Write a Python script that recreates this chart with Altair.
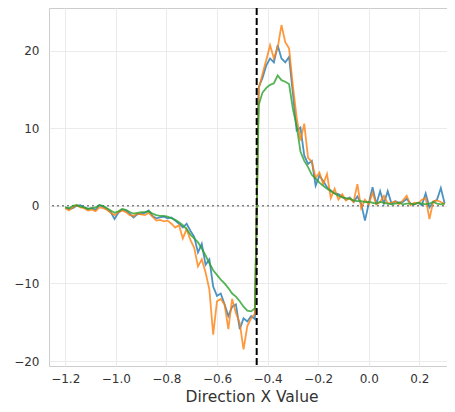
import altair as alt
import pandas as pd

# sample positions along the x direction
x_values = [round(-1.2 + 0.015 * i, 3) for i in range(101)]

blue_vals = [
    -0.2, -0.4, -0.3, 0.0, 0.1, -0.2, -0.4, -0.3, -0.5, 0.1,
    -0.1, -0.4, -0.8, -1.7, -0.9, -0.5, -0.6, -1.0, -1.5, -1.1,
    -1.0, -0.9, -0.6, -1.3, -1.6, -1.5, -1.4, -1.6, -1.5, -1.9,
    -2.3, -2.8, -2.3, -3.2, -4.0, -6.0, -4.9, -7.6, -6.9, -10.4,
    -11.6, -11.3, -12.7, -14.2, -13.0, -12.7, -15.9, -14.5, -14.9, -14.2,
    -14.6, 15.3, 16.5, 18.1, 19.0, 18.5, 20.7, 19.0, 18.5, 19.2,
    14.5, 9.7, 10.1, 6.5, 5.4, 5.8, 2.6, 3.9, 3.2, 2.4,
    2.0, 1.6, 1.5, 1.2, 0.8, 1.1, 0.5, 1.2, 0.3, -1.9,
    0.3, 2.4, 0.2, 1.9, 0.3, 1.9, 0.3, 0.6, 0.4, 0.5,
    0.9, 0.3, 0.2, 0.4, 0.1, 1.6, -0.2, 0.5, 0.8, 2.3,
    0.3,
]

orange_vals = [
    -0.3, -0.6, -0.2, 0.1, -0.2, -0.3, -0.6, -0.5, -0.7, -0.2,
    -0.3, -0.5, -0.9, -1.2, -0.8, -0.6, -0.8, -1.2, -1.3, -1.0,
    -1.1, -1.2, -0.9, -1.4, -1.9, -1.8, -2.0, -1.9, -2.3, -2.8,
    -2.5, -4.2, -3.0, -4.4, -5.4, -7.8, -6.9, -8.6, -10.8, -16.6,
    -12.3, -12.0, -12.7, -15.9, -12.0, -13.8, -15.1, -18.5, -15.5, -14.5,
    -13.9, 15.1, 17.0, 18.8, 20.7, 19.0, 20.4, 23.3, 21.1, 20.3,
    15.5, 11.4, 8.4, 10.6, 6.2, 5.7, 3.6, 4.3, 2.8, 4.1,
    1.0, 2.2, 0.8, 1.5, 0.7, 1.0, 0.5, 2.8, -0.3, 0.8,
    0.2, 1.7, 0.2, 0.5, 1.3, 0.3, 0.4, 0.6, 0.2, 0.7,
    1.3, 0.1, 0.4, 0.3, 0.8, 1.0, -1.7, 0.6, 0.7, 0.5,
    0.2,
]

green_vals = [
    -0.2, -0.3, 0.0, 0.1, -0.1, -0.2, -0.4, -0.3, -0.2, 0.1,
    0.0, -0.3, -0.6, -0.9, -0.7, -0.4, -0.5, -0.8, -1.0, -0.9,
    -0.8, -0.8, -0.7, -1.0, -1.2, -1.3, -1.3, -1.4, -1.6, -1.8,
    -2.1, -2.5, -3.0, -3.7, -4.2, -4.7, -5.5, -6.4, -7.4, -8.3,
    -8.9, -9.5, -10.0, -10.6, -11.3, -11.7, -12.3, -13.0, -13.5, -13.6,
    -13.2, 13.0, 14.6, 15.2, 15.6, 15.8, 16.8, 16.2, 16.0, 15.7,
    12.5, 10.3, 7.0, 5.8, 5.0, 4.0, 3.5, 3.0, 2.6, 2.2,
    1.9, 1.6, 1.3, 1.1, 1.0, 0.9, 0.7, 0.6, 0.6, 0.5,
    0.5, 0.4, 0.3, 0.5, 0.4, 0.3, 0.2, 0.3, 0.4, 0.2,
    0.3, 0.3, 0.2, 0.4, 0.3, 0.2, 0.3, 0.5, 0.3, 0.2,
    0.3,
]

series_colors = ["#1f77b4", "#ff7f0e", "#2ca02c"]
threshold_x = [-0.443]
baseline_y = [0]
x_ticks = [-1.2, -1.0, -0.8, -0.6, -0.4, -0.2, 0.0, 0.2]
y_ticks = [-20, -10, 0, 10, 20]

x_scale = alt.Scale(domain=[-1.264, 0.337], nice=False, zero=False)
y_scale = alt.Scale(domain=[-20.64, 25.5], nice=False, zero=False)

x_axis = alt.Axis(values=x_ticks, format=".1f", title="Direction X Value",
                  labelPadding=7, titlePadding=5)
y_axis = alt.Axis(values=y_ticks, format="d", title="", labelPadding=10)


def line_layer(vals, color):
    df = pd.DataFrame({"x": x_values, "y": vals})
    return alt.Chart(df).mark_line(color=color, strokeWidth=1.8, opacity=0.8).encode(
        x=alt.X("x:Q", scale=x_scale, axis=x_axis),
        y=alt.Y("y:Q", scale=y_scale, axis=y_axis),
    )


hline = alt.Chart(pd.DataFrame({"y": baseline_y})).mark_rule(
    color="#808080", strokeDash=[2, 3], strokeWidth=1.5
).encode(y=alt.Y("y:Q", scale=y_scale, axis=y_axis))

vline = alt.Chart(pd.DataFrame({"x": threshold_x})).mark_rule(
    color="black", strokeDash=[7, 3], strokeWidth=2
).encode(x=alt.X("x:Q", scale=x_scale, axis=x_axis))

chart = alt.layer(
    hline,
    line_layer(blue_vals, series_colors[0]),
    line_layer(orange_vals, series_colors[1]),
    line_layer(green_vals, series_colors[2]),
    vline,
).properties(
    width=405,
    height=358,
    padding={"left": 41, "top": 0, "right": -7, "bottom": 42},
    autosize=alt.AutoSizeParams(type="none"),
).configure_view(
    stroke="#cccccc", strokeWidth=1
).configure_axis(
    grid=True, gridColor="#ebebeb", gridWidth=1, domain=False, ticks=False,
    labelFont="DejaVu Sans", labelFontSize=12, labelColor="#333333",
    titleFont="DejaVu Sans", titleFontSize=15.5, titleFontWeight="normal",
    titleColor="#333333",
)

chart.save("out.html", embed_options={"renderer": "svg", "actions": False})
